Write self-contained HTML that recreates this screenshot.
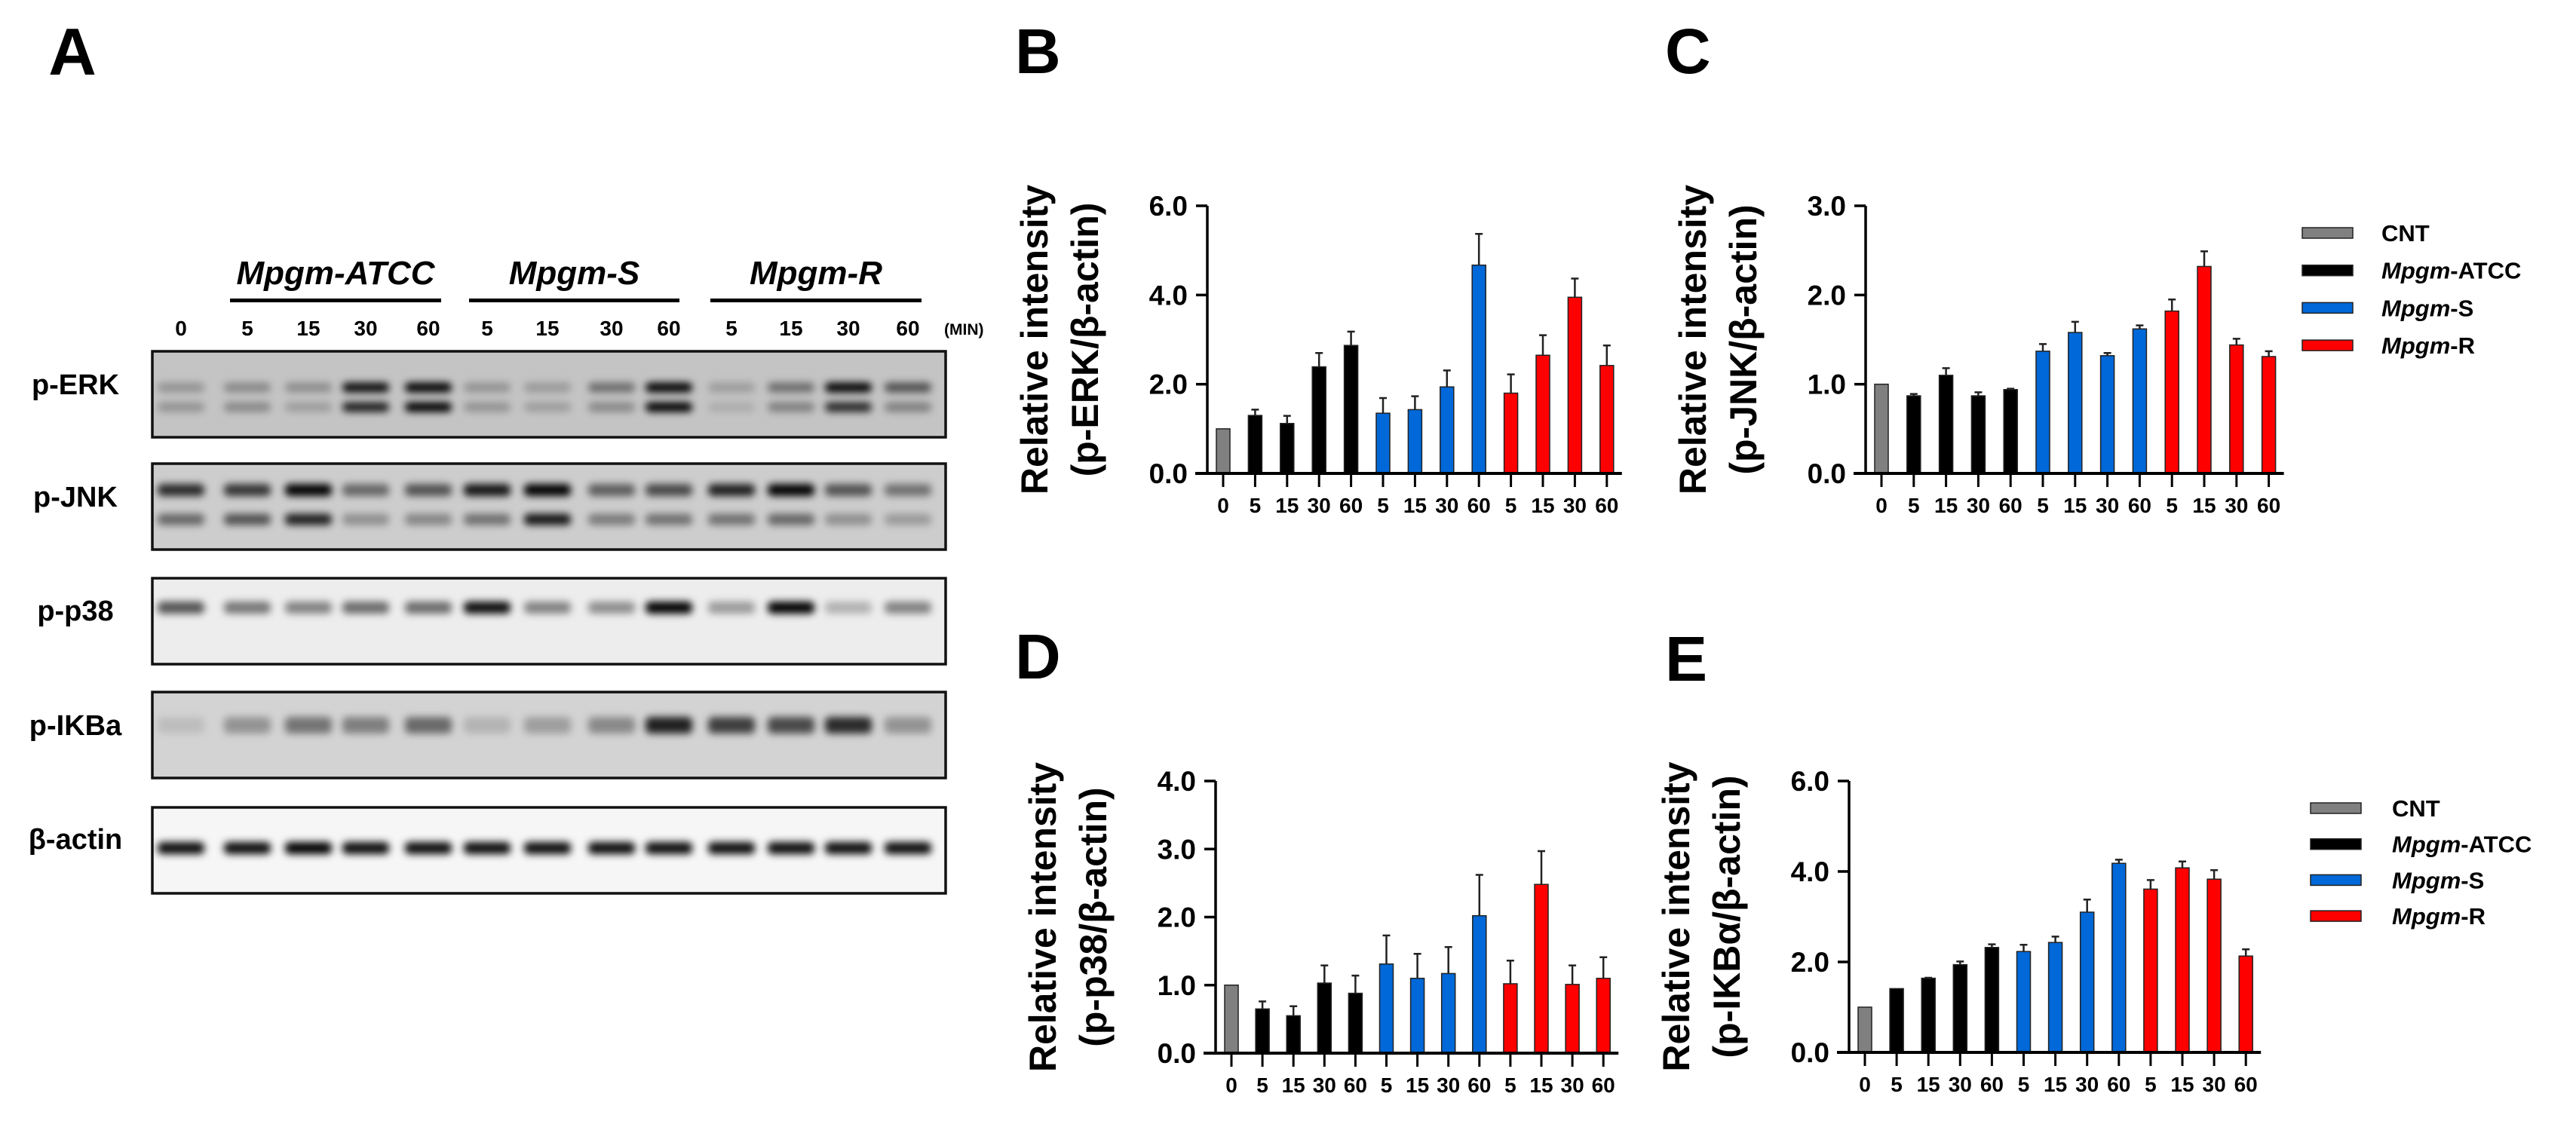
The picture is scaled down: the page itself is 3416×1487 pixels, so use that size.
<!DOCTYPE html>
<html>
<head>
<meta charset="utf-8">
<style>
html,body{margin:0;padding:0;background:#fff;}
svg{display:block;font-family:"Liberation Sans",Arial,sans-serif;}
</style>
</head>
<body>
<svg id="fig" xmlns="http://www.w3.org/2000/svg" width="3416" height="1487" viewBox="0 0 3416 1487">
<defs>
<filter id="blur" x="-50%" y="-100%" width="200%" height="300%"><feGaussianBlur stdDeviation="5"/></filter>
</defs>
<rect x="0" y="0" width="3416" height="1487" fill="#fff"/>
<g id="blotA"></g>
<g id="chartB"></g>
<g id="chartC"></g>
<g id="chartD"></g>
<g id="chartE"></g>
</svg>
<script>
// ---------- chart data ----------
const categories = ["0","5","15","30","60","5","15","30","60","5","15","30","60"];
const groups = ["CNT","ATCC","ATCC","ATCC","ATCC","S","S","S","S","R","R","R","R"];
const ercValues = [1.0,1.30,1.12,2.39,2.87,1.35,1.43,1.94,4.67,1.80,2.65,3.95,2.42];
const ercErrors = [0,0.13,0.17,0.31,0.31,0.34,0.30,0.37,0.70,0.42,0.45,0.42,0.45];
const jnkValues = [1.0,0.87,1.10,0.87,0.94,1.37,1.58,1.32,1.62,1.82,2.32,1.44,1.31];
const jnkErrors = [0,0.02,0.08,0.04,0.01,0.08,0.12,0.03,0.04,0.13,0.17,0.07,0.06];
const p38Values = [1.0,0.65,0.55,1.03,0.88,1.31,1.10,1.17,2.02,1.02,2.48,1.01,1.10];
const p38Errors = [0,0.11,0.14,0.26,0.26,0.42,0.36,0.39,0.60,0.34,0.49,0.28,0.31];
const ikbValues = [1.0,1.41,1.64,1.94,2.32,2.23,2.43,3.10,4.18,3.61,4.08,3.83,2.13];
const ikbErrors = [0,0,0.01,0.07,0.07,0.15,0.13,0.28,0.08,0.20,0.14,0.20,0.15];
const ticksB = [0,2,4,6];
const ticksC = [0,1,2,3];
const ticksD = [0,1,2,3,4];
const ticksE = [0,2,4,6];
const legendLabels = ["CNT","ATCC","S","R"];
// blot band intensities
const blotLabels = ["p-ERK","p-JNK","p-p38","p-IKBa","β-actin"];
const erkTop = [0.25,0.3,0.28,0.95,1,0.25,0.22,0.45,1,0.2,0.45,1,0.6];
const erkBot = [0.25,0.3,0.2,0.85,1,0.25,0.2,0.3,1,0.12,0.35,0.8,0.35];
const jnkTop = [0.8,0.75,1,0.5,0.6,0.9,1,0.55,0.65,0.85,1,0.6,0.45];
const jnkBot = [0.5,0.6,0.85,0.3,0.35,0.45,0.9,0.4,0.45,0.45,0.5,0.3,0.25];
const p38Band = [0.65,0.5,0.45,0.55,0.55,0.95,0.45,0.4,1,0.35,1,0.25,0.45];
const ikbBand = [0.1,0.3,0.45,0.4,0.5,0.15,0.25,0.35,0.85,0.7,0.65,0.8,0.3];
const actinBand = [0.95,0.95,1,0.95,0.95,0.95,0.95,0.95,0.95,0.95,0.95,0.95,0.95];

const NS="http://www.w3.org/2000/svg";
const colors={CNT:"#808080",ATCC:"#000000",S:"#0068d8",R:"#ff0000"};
const groupNames={CNT:"CNT",ATCC:"-ATCC",S:"-S",R:"-R"};
function el(tag,attrs,parent){const e=document.createElementNS(NS,tag);for(const k in attrs)e.setAttribute(k,attrs[k]);if(parent)parent.appendChild(e);return e;}
function txt(parent,x,y,s,size,opts){opts=opts||{};const t=el("text",{x:x,y:y,"font-size":size,"font-weight":"bold","text-anchor":opts.anchor||"middle",fill:"#000"},parent);if(opts.italic)t.setAttribute("font-style","italic");if(opts.rot)t.setAttribute("transform","rotate(-90 "+x+" "+y+")");if(opts.db)t.setAttribute("dominant-baseline",opts.db);t.textContent=s;return t;}
function mpgm(parent,x,y,rest,size,anchor,allItalic){const t=el("text",{x:x,y:y,"font-size":size,"font-weight":"bold","text-anchor":anchor,fill:"#000"},parent);const a=el("tspan",{"font-style":"italic"},t);a.textContent="Mpgm";const b=el("tspan",{},t);if(allItalic)b.setAttribute("font-style","italic");b.textContent=rest;return t;}

// ---------- Panel A ----------
const A=document.getElementById("blotA");
const letA=txt(A,96,99,"A",88);


const laneX=[240,328,409,485,568,646,726,811,887,970,1049,1125,1204];
const grpDefs=[["-ATCC",305,585],["-S",622,901],["-R",942,1222]];
grpDefs.forEach(g=>{
  const t=mpgm(A,(g[1]+g[2])/2,377,g[0],44,"middle",true);
  
  
  const l=el("rect",{x:g[1],y:396,width:g[2]-g[1],height:5,fill:"#000"},A);
  
  
});
categories.forEach((c,i)=>{
  const t=txt(A,laneX[i],445,c,28);
  
  
});
const minT=txt(A,1252,444,"(MIN)",21,{anchor:"start"});


const boxes=[
 {y:465,bg:"#c4c4c4",bands:[[514,erkTop,13],[540,erkBot,13]]},
 {y:614,bg:"#cdcdcd",bands:[[650,jnkTop,16],[689,jnkBot,15]]},
 {y:766,bg:"#ededed",bands:[[806,p38Band,16]]},
 {y:917,bg:"#d3d3d3",bands:[[962,ikbBand,22]]},
 {y:1070,bg:"#f6f6f6",bands:[[1125,actinBand,16]]}
];
const labelY=[510,659,810,962,1113];
boxes.forEach((b,bi)=>{
  const g=el("g",{},A);
  
  
  el("rect",{x:201,y:b.y,width:1054,height:116,fill:b.bg},g);
  const bg=el("g",{filter:"url(#blur)"},g);
  b.bands.forEach(bd=>{
    bd[1].forEach((v,i)=>{
      el("rect",{x:laneX[i]-31,y:bd[0]-bd[2]/2,width:62,height:bd[2],rx:6,fill:"#000","fill-opacity":v},bg);
    });
  });
  el("rect",{x:202,y:b.y+1,width:1052,height:114,fill:"none",stroke:"#111","stroke-width":3.5},g);
  const t=txt(A,100,labelY[bi]+13,blotLabels[bi],38);
  
  
});

// ---------- Bar charts ----------
function chart(gid,cfg){
  const G=document.getElementById(gid);
  const y=v=>cfg.y0-(v/cfg.max)*(cfg.y0-cfg.yTop);
  const x=i=>cfg.ax+21+i*cfg.pitch;
  const lt=txt(G,cfg.letX,cfg.letY,cfg.letter,84,{anchor:"start"});
  
  
  const cy=(cfg.y0+cfg.yTop)/2;
  const t1=txt(G,cfg.ax-229,cy,"Relative intensity",50,{rot:true,db:"central"});
  
  
  const t2=txt(G,cfg.ax-162,cy,cfg.sub,50,{rot:true,db:"central"});
  
  
  cfg.values.forEach((v,i)=>{
    const bx=x(i)-9;
    const bar=el("rect",{x:bx,y:y(v),width:18,height:cfg.y0-y(v),fill:colors[groups[i]],stroke:"#222","stroke-width":1.5},G);
    
    
    const e=cfg.errors[i];
    if(e>0){
      const eb=el("path",{d:"M"+x(i)+" "+y(v)+"V"+y(v+e)+"M"+(x(i)-5)+" "+y(v+e)+"H"+(x(i)+5),stroke:"#222","stroke-width":2.5,fill:"none"},G);
      
      
    }
  });
  const last=x(cfg.values.length-1)+20;
  const xa=el("path",{d:"M"+(cfg.ax-16)+" "+cfg.y0+"H"+last,stroke:"#000","stroke-width":4,fill:"none"},G);
  
  
  const ya=el("path",{d:"M"+cfg.ax+" "+(cfg.y0+2)+"V"+cfg.yTop,stroke:"#000","stroke-width":3.5,fill:"none"},G);
  
  
  cfg.ticks.forEach(tv=>{
    el("path",{d:"M"+(cfg.ax-15)+" "+y(tv)+"H"+cfg.ax,stroke:"#000","stroke-width":3.5},G);
    const tl=txt(G,cfg.ax-26,y(tv)+13,tv.toFixed(1),37,{anchor:"end"});
    
    
  });
  categories.forEach((c,i)=>{
    el("path",{d:"M"+x(i)+" "+cfg.y0+"V"+(cfg.y0+18),stroke:"#000","stroke-width":3},G);
    const tl=txt(G,x(i),cfg.y0+52,c,28);
    
    
  });
  if(cfg.legend){
    legendLabels.forEach((k,i)=>{
      const ly=cfg.legend.y+i*cfg.legend.dy;
      const r=el("rect",{x:cfg.legend.x,y:ly-7,width:67,height:14,fill:colors[k],stroke:"#222","stroke-width":1.5},G);
      
      
      let t;
      if(k==="CNT") t=txt(G,cfg.legend.tx,ly+11,"CNT",31,{anchor:"start"});
      else t=mpgm(G,cfg.legend.tx,ly+11,groupNames[k],31,"start",false);
      
      
    });
  }
}
chart("chartB",{letter:"B",letX:1346,letY:97,ax:1601,y0:628,yTop:273,max:6,pitch:42.4,ticks:ticksB,values:ercValues,errors:ercErrors,sub:"(p-ERK/β-actin)"});
chart("chartC",{letter:"C",letX:2208,letY:97,ax:2474,y0:628,yTop:273,max:3,pitch:42.8,ticks:ticksC,values:jnkValues,errors:jnkErrors,sub:"(p-JNK/β-actin)",legend:{x:3053,tx:3158,y:309,dy:49.7}});
chart("chartD",{letter:"D",letX:1346,letY:900,ax:1612,y0:1397,yTop:1036,max:4,pitch:41.1,ticks:ticksD,values:p38Values,errors:p38Errors,sub:"(p-p38/β-actin)"});
chart("chartE",{letter:"E",letX:2208,letY:903,ax:2452,y0:1396,yTop:1036,max:6,pitch:42.1,ticks:ticksE,values:ikbValues,errors:ikbErrors,sub:"(p-IKBα/β-actin)",legend:{x:3064,tx:3172,y:1072,dy:47.7}});
</script>
</body>
</html>
